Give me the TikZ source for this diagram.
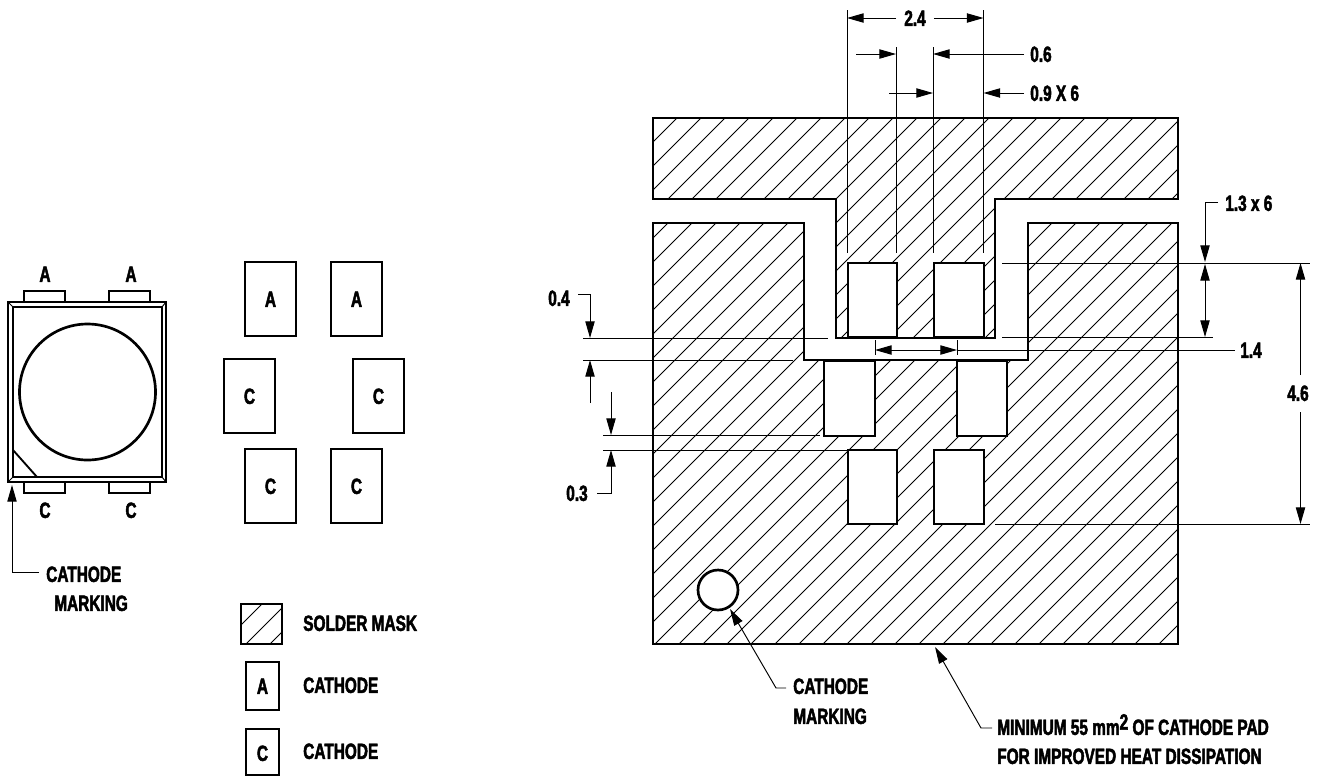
\documentclass[tikz,border=0pt]{standalone}
\usepackage{fontspec}
\setmainfont{Liberation Sans}[UprightFont=* Bold,BoldFont=* Bold,FakeStretch=0.7,FakeBold=2.2]
\usetikzlibrary{arrows.meta}
\tikzset{
  thick line/.style={line width=2pt,line join=miter},
  thin line/.style={line width=0.72pt},
  hatchline/.style={line width=0.6pt},
  dim/.style={thin line,-{Triangle[length=12.5pt,width=7pt]}},
  dimboth/.style={thin line,{Triangle[length=12.5pt,width=7pt]}-{Triangle[length=12.5pt,width=7pt]}},
  padbox/.style={thick line,fill=white},
  lab/.style={inner sep=0pt,font=\fontsize{16.5}{19}\selectfont,text height=11.8pt,text depth=0pt,anchor=west},
  labc/.style={lab,anchor=center}
}
\newcommand{\hatchfill}{\foreach \k in {-20,...,40}{\draw[hatchline] ({915+24*\k-900},900) -- ({915+24*\k},0);}}
\begin{document}
\begin{tikzpicture}[x=0.75pt,y=-0.75pt]
\useasboundingbox (0,0) rectangle (1323,776);
% ---------- package outline ----------
\draw[thick line] (24,291) rectangle (65,302);
\draw[thick line] (109,291) rectangle (150,302);
\draw[thick line] (24,482) rectangle (65,493);
\draw[thick line] (109,482) rectangle (150,493);
\draw[thick line,fill=white] (8,302) rectangle (166,482);
\draw[thick line] (13,307) rectangle (162,477);
\draw[thin line] (8,302)--(13,307) (166,302)--(162,307) (8,482)--(13,477) (166,482)--(162,477);
\draw[thick line] (87.5,392) circle (68);
\draw[line width=1.4pt] (13,450)--(37,477);
\node[labc] (pa1) at (45,274) {A};
\node[labc] (pa2) at (131,274) {A};
\node[labc] (pc1) at (45,510) {C};
\node[labc] (pc2) at (131,510) {C};
\coordinate (pmt) at (12,485);
\coordinate (pmk) at (12,572);
\coordinate (pme) at (39,572);
\draw[dim] (pme)--(pmk)--(pmt);
\node[lab] (pm1) at (46,574) {CATHODE};
\node[lab] (pm2) at (54,603) {MARKING};
% ---------- footprint pads ----------
\foreach \x/\y/\t in {245/262/A,331/262/A,224/359/C,353/359/C,245/449/C,331/449/C}{
  \draw[thick line] (\x,\y) rectangle ++(51,74);
  \node[labc] at (\x+25.5,\y+37) {\t};
}
% ---------- legend ----------
\begin{scope}
\clip (241,604) rectangle (282,644);
\foreach \c in {866,890,914}{\draw[hatchline] (\c-660,660)--(\c-600,600);}
\end{scope}
\draw[thick line] (241,604) rectangle (282,644);
\draw[thick line] (246,662) rectangle (279,710);
\node[labc] (la) at (262.5,686) {A};
\draw[thick line] (246,729) rectangle (279,775);
\node[labc] (lc) at (262.5,753) {C};
\node[lab] (l1) at (303,623) {SOLDER MASK};
\node[lab] (l2) at (303,685) {CATHODE};
\node[lab] (l3) at (303,751) {CATHODE};
% ---------- land pattern ----------
\def\topshape{(653,118)--(1178,118)--(1178,199)--(995,199)--(995,338)--(836,338)--(836,199)--(653,199)--cycle}
\def\lowshape{(653,223)--(804,223)--(804,360)--(1028,360)--(1028,223)--(1178,223)--(1178,644)--(653,644)--cycle}
\begin{scope}\clip \topshape; \hatchfill \end{scope}
\begin{scope}\clip \lowshape; \hatchfill \end{scope}
\draw[thick line] \topshape;
\draw[thick line] \lowshape;
\draw[padbox] (848,263) rectangle (897,337);
\draw[padbox] (934,263) rectangle (984,337);
\draw[padbox] (824,361) rectangle (875,436);
\draw[padbox] (957,361) rectangle (1007,436);
\draw[padbox] (848,450) rectangle (897,524);
\draw[padbox] (934,450) rectangle (984,524);
\draw[thick line,fill=white] (718,590) circle (20);
% ---------- top dimensions ----------
\draw[thin line] (847,10)--(847,253) (983.5,10)--(983.5,253);
\draw[thin line] (896,47)--(896,253) (933,47)--(933,253);
\node[labc] (d24) at (915,18) {2.4};
\draw[dim] (d24.west)++(-8,0)--(847,18);
\draw[dim] (d24.east)++(8,0)--(983.5,18);
\node[lab] (d06) at (1030,54) {0.6};
\coordinate (a06) at (856,54);
\draw[dim] (a06)--(896,54);
\draw[dim] (d06.west)++(-6,0)--(933,54);
\node[lab] (d09) at (1030,93) {0.9 X 6};
\coordinate (a09) at (889,93);
\draw[dim] (a09)--(933,93);
\draw[dim] (d09.west)++(-6,0)--(983.5,93);
% ---------- right dimensions ----------
\draw[thin line] (1002,263)--(1310,263) (1002,337)--(1213,337) (995,524)--(1310,524);
\node[lab] (d13) at (1225,203) {1.3 x 6};
\coordinate (c13) at (1205,202);
\coordinate (e13) at (1218,202);
\coordinate (t13) at (1205,262);
\draw[dim] (e13)--(c13)--(t13);
\draw[dimboth] (1205,264)--(1205,337);
\node[labc] (d46) at (1298,393) {4.6};
\draw[dim] (1300.5,375)--(1300.5,263);
\draw[dim] (1300.5,412)--(1300.5,524);
\node[lab] (d14) at (1240,350) {1.4};
\draw[thin line] (875,340)--(875,355) (957,340)--(957,355);
\draw[thin line] (957,350)--(1235,350);
\draw[dimboth] (875,350)--(957,350);
% ---------- left dimensions ----------
\draw[thin line] (583,338)--(828,338) (583,360)--(793,360);
\draw[thin line] (603,435)--(820,435) (603,450)--(848,450);
\node[lab] (d04) at (548,298) {0.4};
\coordinate (e04) at (578,294);
\coordinate (c04) at (590,294);
\draw[dim] (e04)--(c04)--(590,338);
\draw[dim] (590,403)--(590,360);
\draw[dim] (611,392)--(611,435);
\node[lab] (d03) at (566,493) {0.3};
\coordinate (e03) at (597,493);
\coordinate (c03) at (611,493);
\draw[dim] (e03)--(c03)--(611,450);
% ---------- callouts ----------
\node[lab] (m1) at (793,686) {CATHODE};
\node[lab] (m2) at (793,716) {MARKING};
\coordinate (me) at (786,688);
\coordinate (mc) at (776,688);
\coordinate (mt) at (730,609);
\draw[dim] (me)--(mc)--(mt);
\node[lab] (h1) at (997,727) {MINIMUM 55 mm\raisebox{4pt}{2} OF CATHODE PAD};
\node[lab] (h2) at (997,756) {FOR IMPROVED HEAT DISSIPATION};
\coordinate (he) at (992,728);
\coordinate (hc) at (981,728);
\coordinate (ht) at (935,647);
\draw[dim] (he)--(hc)--(ht);
\end{tikzpicture}
\end{document}
